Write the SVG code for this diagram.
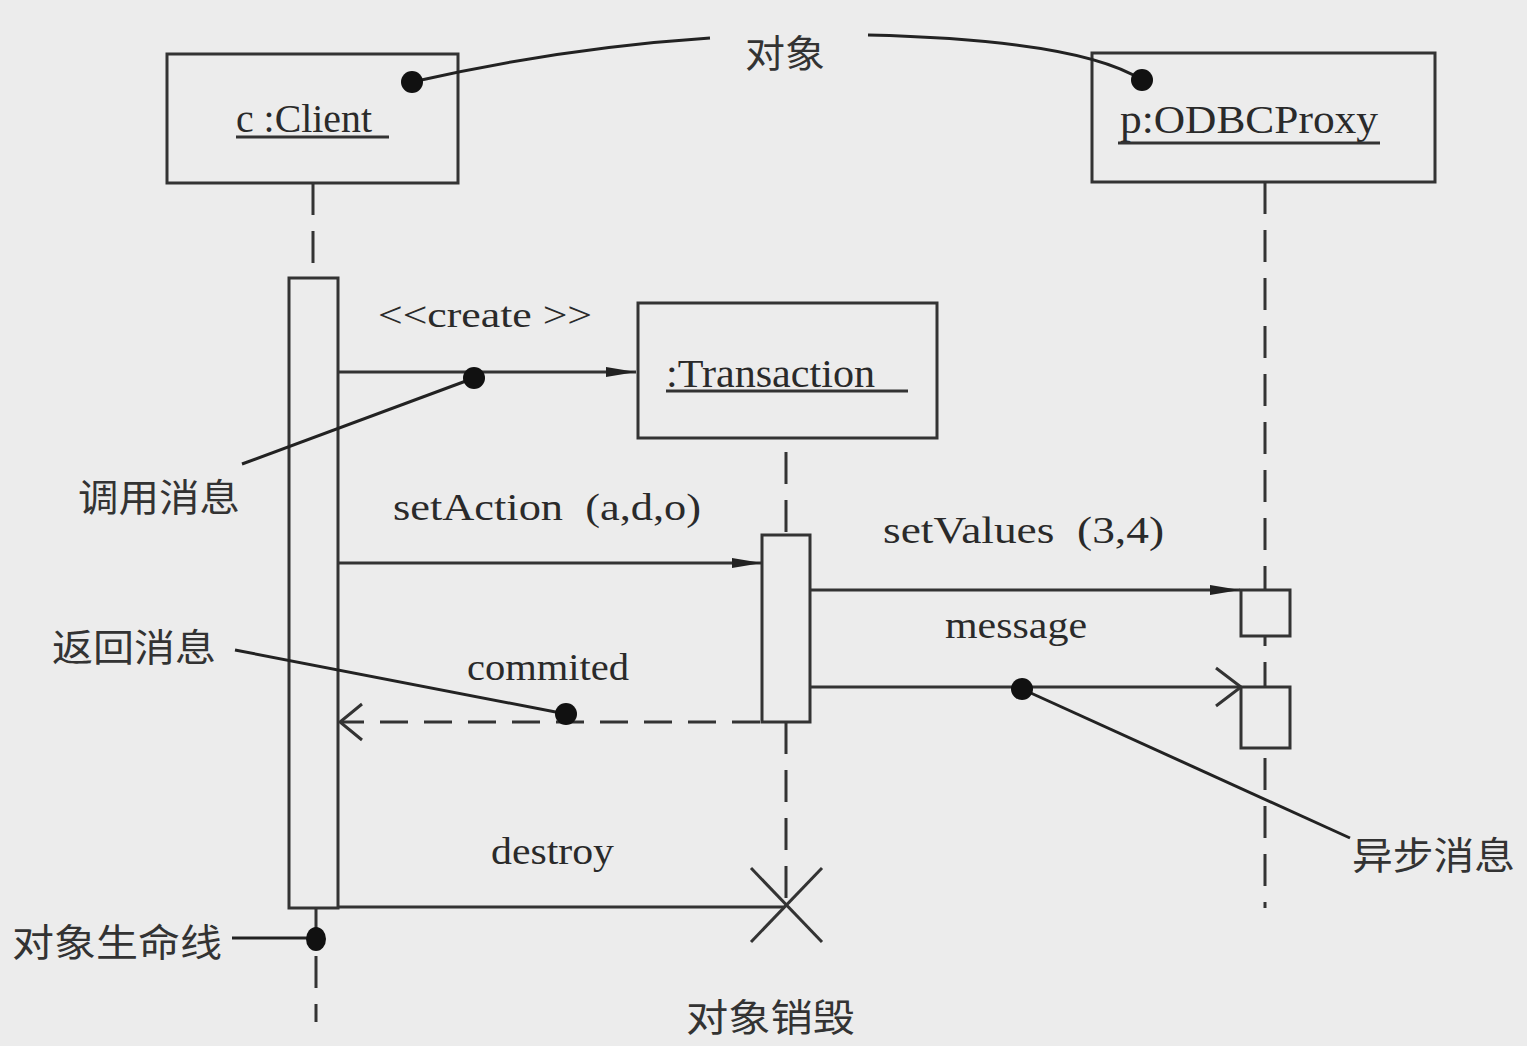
<svg xmlns="http://www.w3.org/2000/svg" width="1527" height="1046" viewBox="0 0 1527 1046">
<defs>
<style>
.box{fill:none;stroke:#333;stroke-width:3}
.act{fill:#ececec;stroke:#333;stroke-width:3}
.ln{fill:none;stroke:#333;stroke-width:3}
.life{fill:none;stroke:#333;stroke-width:3;stroke-dasharray:32,16}
.ret{fill:none;stroke:#333;stroke-width:3;stroke-dasharray:28,16}
.lead{fill:none;stroke:#222;stroke-width:3}
.dot{fill:#111}
.t{font-family:"Liberation Serif","Times New Roman",serif;fill:#2a2a2a}
.cn{font-family:"Noto Sans CJK SC",sans-serif;fill:#333;font-size:38px}
</style>
<marker id="fill" viewBox="0 0 30 12" refX="30" refY="6" markerWidth="30" markerHeight="12" markerUnits="userSpaceOnUse" orient="auto">
<path d="M0,1 L30,6 L0,11 Z" fill="#222"/>
</marker>
</defs>
<rect width="1527" height="1046" fill="#ececec"/>

<g id="client">
<rect class="box" x="167" y="54" width="291" height="129"/>
<text class="t" x="236" y="132" font-size="41" textLength="136" lengthAdjust="spacingAndGlyphs">c :Client</text>
<line class="ln" x1="236" y1="137" x2="389" y2="137" stroke-width="2.5"/>
<line class="life" x1="313" y1="183" x2="313" y2="278"/>
<rect class="act" x="289" y="278" width="49" height="630"/>
<line class="life" x1="316" y1="908" x2="316" y2="1022" stroke-dasharray="22,14"/>
</g>

<g id="odbcproxy">
<rect class="box" x="1092" y="53" width="343" height="129"/>
<text class="t" x="1120" y="133" font-size="41" textLength="258" lengthAdjust="spacingAndGlyphs">p:ODBCProxy</text>
<line class="ln" x1="1118" y1="143" x2="1380" y2="143" stroke-width="2.5"/>
<line class="life" x1="1265" y1="182" x2="1265" y2="908"/>
<rect class="act" x="1241" y="590" width="49" height="46"/>
<rect class="act" x="1241" y="687" width="49" height="61"/>
</g>

<g id="transaction">
<rect class="box" x="638" y="303" width="299" height="135"/>
<text class="t" x="666" y="387" font-size="41" textLength="209" lengthAdjust="spacingAndGlyphs">:Transaction</text>
<line class="ln" x1="666" y1="391" x2="908" y2="391" stroke-width="2.5"/>
<line class="life" x1="786" y1="452" x2="786" y2="535"/>
<rect class="act" x="762" y="535" width="48" height="187"/>
<line class="life" x1="786" y1="722" x2="786" y2="905" stroke-dasharray="30,16"/>
<line class="ln" x1="751" y1="868" x2="822" y2="942"/>
<line class="ln" x1="822" y1="868" x2="751" y2="942"/>
</g>

<g id="connectors">
<line class="ln" x1="338" y1="372" x2="636" y2="372" marker-end="url(#fill)"/>
<line class="ln" x1="338" y1="563" x2="762" y2="563" marker-end="url(#fill)"/>
<line class="ln" x1="810" y1="590" x2="1240" y2="590" marker-end="url(#fill)"/>
<line class="ln" x1="810" y1="687" x2="1241" y2="687"/>
<polyline class="ln" points="1216,668 1241,687 1216,706"/>
<line class="ret" x1="760" y1="722" x2="340" y2="722"/>
<polyline class="ln" points="362,704 340,722 362,740"/>
<line class="ln" x1="338" y1="907" x2="785" y2="907"/>
</g>

<g id="labels">
<text class="t" x="378" y="327" font-size="35" textLength="214" lengthAdjust="spacingAndGlyphs">&lt;&lt;create &gt;&gt;</text>
<text class="t" x="393" y="520" font-size="38" textLength="308" lengthAdjust="spacingAndGlyphs" xml:space="preserve">setAction  (a,d,o)</text>
<text class="t" x="883" y="543" font-size="37" textLength="281" lengthAdjust="spacingAndGlyphs" xml:space="preserve">setValues  (3,4)</text>
<text class="t" x="945" y="638" font-size="38" textLength="142" lengthAdjust="spacingAndGlyphs">message</text>
<text class="t" x="467" y="680" font-size="38" textLength="162" lengthAdjust="spacingAndGlyphs">commited</text>
<text class="t" x="491" y="864" font-size="38" textLength="123" lengthAdjust="spacingAndGlyphs">destroy</text>
</g>

<g id="annotations">
<text class="cn" x="745" y="67" textLength="80" lengthAdjust="spacingAndGlyphs">对象</text>
<path class="lead" d="M412,82 Q560,48 710,38"/>
<circle class="dot" cx="412" cy="82" r="11"/>
<path class="lead" d="M868,35 Q1080,40 1142,80"/>
<circle class="dot" cx="1142" cy="80" r="11"/>

<text class="cn" x="78" y="511" textLength="162" lengthAdjust="spacingAndGlyphs">调用消息</text>
<line class="lead" x1="474" y1="378" x2="242" y2="464"/>
<circle class="dot" cx="474" cy="378" r="11"/>

<text class="cn" x="52" y="661" textLength="164" lengthAdjust="spacingAndGlyphs">返回消息</text>
<line class="lead" x1="235" y1="650" x2="566" y2="714"/>
<circle class="dot" cx="566" cy="714" r="11"/>

<text class="cn" x="1352" y="869" textLength="163" lengthAdjust="spacingAndGlyphs">异步消息</text>
<line class="lead" x1="1022" y1="689" x2="1350" y2="838"/>
<circle class="dot" cx="1022" cy="689" r="11"/>

<text class="cn" x="12" y="956" textLength="210" lengthAdjust="spacingAndGlyphs">对象生命线</text>
<line class="lead" x1="232" y1="938" x2="316" y2="938"/>
<ellipse class="dot" cx="316" cy="939" rx="10" ry="12"/>

<text class="cn" x="686" y="1031" textLength="169" lengthAdjust="spacingAndGlyphs">对象销毁</text>
</g>
</svg>
